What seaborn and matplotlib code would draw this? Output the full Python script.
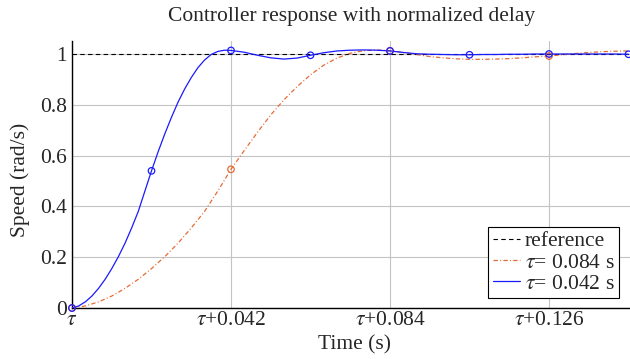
import numpy as np
import pandas as pd
import matplotlib
matplotlib.use("Agg")
import matplotlib.pyplot as plt
import seaborn as sns

# ---- data ----
t_fast = [0.0, 0.00175, 0.0035, 0.00525, 0.007, 0.00875, 0.0105, 0.01225, 0.014,
          0.01575, 0.0175, 0.01925, 0.021, 0.02275, 0.0245, 0.02625, 0.028,
          0.02975, 0.0315, 0.03325, 0.035, 0.03675, 0.0385, 0.04025, 0.042,
          0.0455, 0.049, 0.0525, 0.056, 0.0595, 0.063, 0.0665, 0.070, 0.0735,
          0.077, 0.0805, 0.084, 0.0875, 0.091, 0.0945, 0.098, 0.1015, 0.105,
          0.1085, 0.112, 0.1155, 0.119, 0.1225, 0.126, 0.1295, 0.133, 0.1365,
          0.140, 0.1435, 0.147]
y_fast = [0.0, 0.008, 0.024, 0.047, 0.077, 0.113, 0.155, 0.202, 0.255,
          0.315, 0.38, 0.46, 0.54, 0.615, 0.685, 0.75, 0.81,
          0.862, 0.907, 0.946, 0.976, 0.998, 1.01, 1.015, 1.014,
          1.007, 0.995, 0.985, 0.98, 0.984, 0.995, 1.005, 1.012, 1.015,
          1.016, 1.015, 1.012, 1.006, 1.001, 0.999, 0.998, 0.997, 0.997,
          0.998, 0.998, 0.999, 0.999, 1.0, 1.0, 1.0, 1.0, 1.0,
          1.0, 1.0, 0.999]
fast_mark_t = [0.0, 0.021, 0.042, 0.063, 0.084, 0.105, 0.126, 0.147]

t_slow = [0.0, 0.0035, 0.007, 0.0105, 0.014, 0.0175, 0.021, 0.0245, 0.028,
          0.0315, 0.035, 0.0385, 0.042, 0.0455, 0.049, 0.0525, 0.056, 0.0595,
          0.063, 0.0665, 0.070, 0.0735, 0.077, 0.0805, 0.084, 0.0875, 0.091,
          0.0945, 0.098, 0.1015, 0.105, 0.1085, 0.112, 0.1155, 0.119, 0.1225,
          0.126, 0.1295, 0.133, 0.1365, 0.140, 0.1435, 0.147]
y_slow = [0.0, 0.008, 0.024, 0.047, 0.077, 0.113, 0.155, 0.202, 0.255,
          0.315, 0.38, 0.46, 0.546, 0.62, 0.692, 0.76, 0.82, 0.872,
          0.918, 0.956, 0.984, 1.003, 1.013, 1.016, 1.013, 1.006, 0.998,
          0.99, 0.985, 0.981, 0.979, 0.979, 0.98, 0.982, 0.985, 0.989,
          0.992, 0.997, 1.002, 1.006, 1.009, 1.011, 1.012]
slow_mark_t = [0.0, 0.042, 0.084, 0.126]

ref_t = [0.0, 0.1474]
ref_y = [1.0, 1.0]

x_ticks = [0.0, 0.042, 0.084, 0.126]
x_tick_labels = [r"$\tau$", r"$\tau$+0.042", r"$\tau$+0.084", r"$\tau$+0.126"]
y_ticks = [0, 0.2, 0.4, 0.6, 0.8, 1.0]
y_tick_labels = ["0", "0.2", "0.4", "0.6", "0.8", "1"]

label_ref = "reference"
label_slow = r"$\tau$= 0.084 s"
label_fast = r"$\tau$= 0.042 s"

BLUE = "#1a1aff"
ORANGE = "#e56b35"
FS = 15.5

sns.set_theme(style="white")
plt.rcParams["font.family"] = ["Liberation Serif", "DejaVu Serif"]
plt.rcParams["mathtext.fontset"] = "stix"

fig = plt.figure(figsize=(6.3, 3.59), dpi=100)
ax = fig.add_axes([72/630, 51/359, 558/630, 266.7/359])

df_fast = pd.DataFrame({"t": t_fast, "y": y_fast})
df_slow = pd.DataFrame({"t": t_slow, "y": y_slow})
df_ref = pd.DataFrame({"t": ref_t, "y": ref_y})

mk_fast = df_fast[np.isclose(df_fast["t"].values[:, None], np.array(fast_mark_t)[None, :]).any(axis=1)]
mk_slow = df_slow[np.isclose(df_slow["t"].values[:, None], np.array(slow_mark_t)[None, :]).any(axis=1)]

sns.lineplot(data=df_ref, x="t", y="y", ax=ax, color="black", lw=0.8,
             linestyle=(0, (4, 3)), label=label_ref, zorder=3)
sns.lineplot(data=df_slow, x="t", y="y", ax=ax, color=ORANGE, lw=0.9,
             linestyle=(0, (3.5, 1.8, 0.8, 1.8)), label=label_slow, zorder=4)
sns.lineplot(data=df_fast, x="t", y="y", ax=ax, color=BLUE, lw=0.9,
             label=label_fast, zorder=5)

sns.scatterplot(data=mk_slow, x="t", y="y", ax=ax, marker="o", s=22,
                facecolors="none", edgecolor=ORANGE, linewidth=0.9, zorder=6,
                legend=False, clip_on=False)
sns.scatterplot(data=mk_fast, x="t", y="y", ax=ax, marker="o", s=22,
                facecolors="none", edgecolor=BLUE, linewidth=0.9, zorder=7,
                legend=False, clip_on=False)

ax.set_xlim(0, 0.1474)
ax.set_ylim(0, 1.05)
ax.set_xticks(x_ticks)
ax.set_xticklabels(x_tick_labels, fontsize=FS)
ax.set_yticks(y_ticks)
ax.set_yticklabels(y_tick_labels, fontsize=FS)
ax.tick_params(axis="x", length=0, pad=2.5)
ax.tick_params(axis="y", length=0, pad=3.5)
ax.grid(True, color="#c4c4c4", lw=0.8)
ax.set_axisbelow(True)
for s in ["top", "right"]:
    ax.spines[s].set_visible(False)
for s in ["left", "bottom"]:
    ax.spines[s].set_color("black")
    ax.spines[s].set_linewidth(1.0)
ax.set_xlabel("")
ax.set_ylabel("")

fig.text(352/630, 1 - 17/359, "Controller response with normalized delay",
         ha="center", va="center", fontsize=FS)
fig.text(354/630, 1 - 345/359, "Time (s)", ha="center", va="center", fontsize=FS)
fig.text(20/630, 1 - 180/359, "Speed (rad/s)", ha="center", va="center",
         rotation=90, fontsize=FS)

leg = ax.legend(loc="lower right", bbox_to_anchor=(619/630, 61/359),
                bbox_transform=fig.transFigure, fontsize=FS, frameon=True,
                fancybox=False, edgecolor="black", framealpha=1,
                handlelength=1.25, handletextpad=0.25, labelspacing=0.05,
                borderpad=0.2, borderaxespad=0)
leg.get_frame().set_linewidth(0.8)

fig.savefig("out.png", dpi=100)
